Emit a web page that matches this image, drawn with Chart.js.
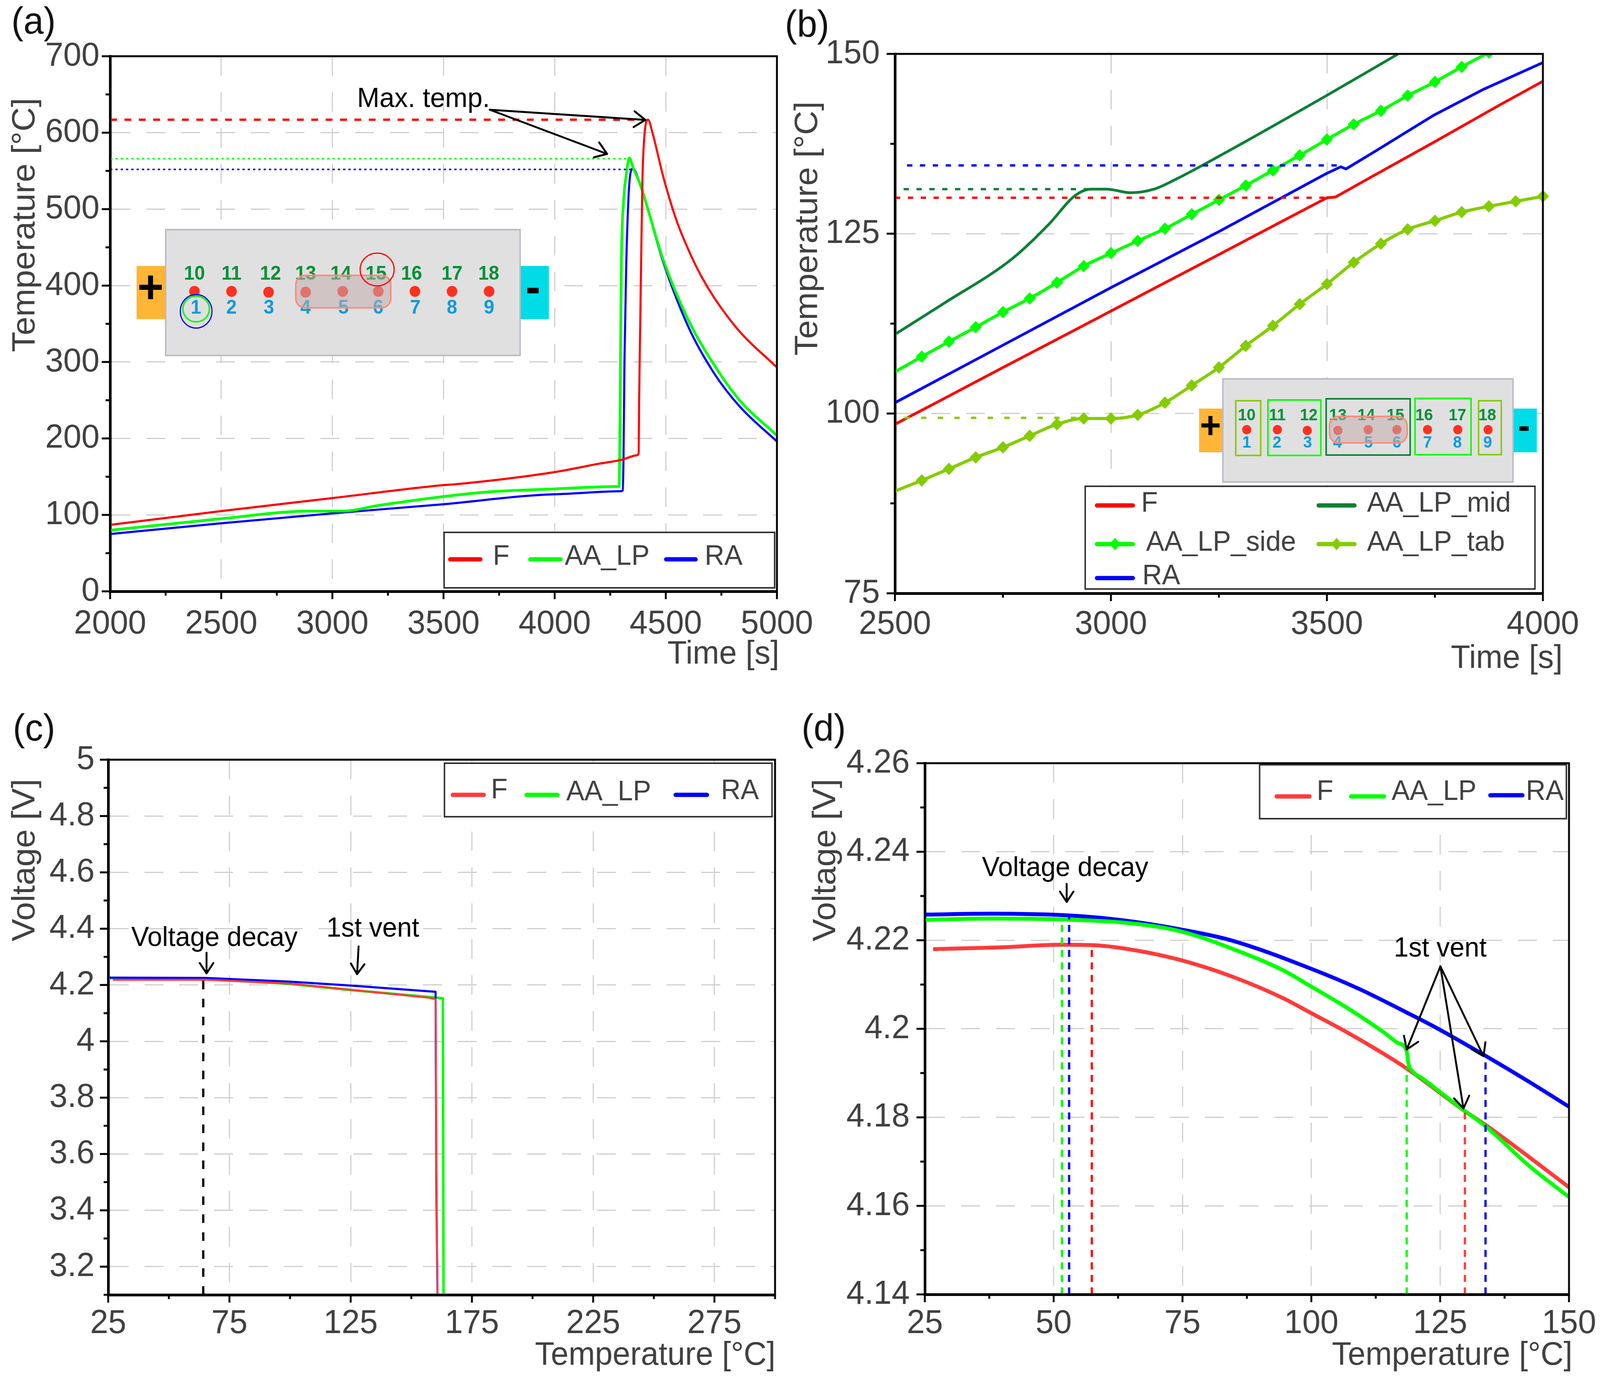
<!DOCTYPE html>
<html><head><meta charset="utf-8">
<script src="https://cdn.jsdelivr.net/npm/chart.js@4"></script>
<style>
html,body{margin:0;padding:0;background:#fff;overflow:hidden}
canvas{position:absolute;left:0;top:0}
</style></head><body>
<canvas id="a" width="4230" height="3528"></canvas>
<canvas id="b" width="4230" height="3528"></canvas>
<canvas id="c" width="4230" height="3528"></canvas>
<canvas id="d" width="4230" height="3528"></canvas>
<script>
// ---------- panel (a) ----------
const aF_t=[2000,2500,3000,3500,3550,4000,4200,4300,4370,4378,4380,4385,4390,4395,4405,4420,4440,4488,4546,4603,4660,4718,4832,5000];
const aF_T=[87,105,122,139,140,156,167,172,178,181,250,350,450,540,600,617,600,543,487,446,412,384,340,293];
const aAA_t=[2000,2500,2900,3050,3200,3500,3700,4000,4280,4290,4292,4296,4300,4310,4322,4336,4352,4385,4488,4603,4718,4832,5000];
const aAA_T=[80,95,105,105,112,124,130,134,137,137,170,300,428,510,545,567,555,532,434,354,296,250,204];
const aRA_t=[2000,2500,3000,3500,4000,4300,4306,4310,4314,4322,4339,4352,4385,4488,4603,4718,4832,5000];
const aRA_T=[75,89,102,114,127,131,132,180,300,428,543,553,532,431,345,285,242,196];
const aMaxT=[617,566,552];
const aMaxEnd=[4400,4325,4345];
const aXMajor=[2000,2500,3000,3500,4000,4500,5000], aXMinor=[2250,2750,3250,3750,4250,4750];
const aYMajor=[0,100,200,300,400,500,600,700], aYMinor=[50,150,250,350,450,550,650];
// ---------- panel (b) ----------
const bF_t=[2500,2600,2750,2900,3000,3100,3250,3400,3500,3520,3600,3750,3900,4000];
const bF_T=[98.5,101.65,106.4,111.1,114.25,117.4,122.1,126.85,130,130.1,132.8,137.8,142.9,146.2];
const bRA_t=[2500,2750,3000,3250,3500,3532,3544,3610,3748,3860,4000];
const bRA_T=[101.5,109.5,117.5,125.3,133.4,134.3,134,136.4,141.5,145,148.8];
const bMid_t=[2500,2613,2771,2856,2917,2954,2990,3045,3100,3148,3245,3499,3665];
const bMid_T=[111,115.3,121.5,126.3,130.3,131.2,131.2,130.7,131.2,132.5,135.6,144.2,150];
const bSide_t=[2500,2562,2625,2687,2750,2812,2875,2937,3000,3062,3125,3187,3250,3312,3375,3437,3500,3562,3625,3687,3750,3812,3875];
const bSide_T=[105.8,107.9,110,112,114.1,116,118.2,120.5,122.3,124,125.7,127.7,129.7,131.7,133.8,135.9,138.1,140.2,142.1,144.2,146.1,148.2,150.2];
const bTab_t=[2500,2562,2625,2687,2750,2812,2875,2937,3000,3062,3125,3187,3250,3312,3375,3437,3500,3562,3625,3687,3750,3812,3875,3937,4000];
const bTab_T=[89.2,90.7,92.3,93.9,95.3,96.9,98.5,99.3,99.3,99.8,101.5,103.9,106.4,109.4,112.2,115.2,118,121,123.6,125.6,126.8,128,128.8,129.5,130.2];
const bVentT=[130,134.5,131.2,99.4];
const bVentStart=[2500,2528,2520,2522];
const bVentEnd=[3500,3532,2954,2937];
const bXMajor=[2500,3000,3500,4000], bXMinor=[2750,3250,3750];
const bYMajor=[75,100,125,150], bYMinor=[87.5,112.5,137.5];
// ---------- panel (c) ----------
const cF_T=[27,65,100,125,157,160,160.3,160.8];
const cF_V=[4.218,4.219,4.205,4.183,4.155,4.15,3.6,3.1];
const cAA_T=[25,60,100,125,163,163.3];
const cAA_V=[4.224,4.224,4.204,4.182,4.153,3.1];
const cRA_T=[25,65,100,125,160,160.3,160.8];
const cRA_V=[4.226,4.225,4.212,4.198,4.176,3.5,3.1];
const cDecayT=64.2, cDecayV=4.22;
const cXMajor=[25,75,125,175,225,275], cXMinor=[50,100,150,200,250,300];
const cYMajor=[3.2,3.4,3.6,3.8,4,4.2,4.4,4.6,4.8,5], cYMinor=[3.1,3.3,3.5,3.7,3.9,4.1,4.3,4.5,4.7,4.9];
// ---------- panel (d) ----------
const dF_T=[26.6,39.6,51.5,57.5,64.5,74.4,84.4,94.4,99.9,107.4,118.3,129.8,133.8,142.3,150];
const dF_V=[4.218,4.2184,4.219,4.2189,4.218,4.2156,4.2119,4.207,4.2036,4.1989,4.1912,4.1814,4.1783,4.171,4.1642];
const dAA_T=[25,37.6,51.5,63.5,74.4,84.4,94.4,99.9,107.4,114.3,116.8,118.5,118.8,119.8,121.3,129.8,133.8,142.3,150];
const dAA_V=[4.2246,4.2249,4.2247,4.224,4.2221,4.2182,4.2133,4.2096,4.2044,4.199,4.1968,4.195,4.1924,4.1902,4.189,4.1814,4.178,4.169,4.162];
const dRA_T=[25,37.6,53,63.5,74.4,84.4,99.9,109.3,118.3,124.3,133.8,142.3,150];
const dRA_V=[4.2258,4.226,4.2256,4.2245,4.2225,4.22,4.2136,4.209,4.2038,4.2002,4.1939,4.188,4.1824];
const dDecayT=[51.6,53,57.4], dDecayV=[4.2247,4.2256,4.2189];
const dVentT=[118.5,129.8,133.8], dVentV=[4.1912,4.1814,4.1939];
const dXMajor=[25,50,75,100,125,150], dXMinor=[37.5,62.5,87.5,112.5,137.5];
const dYMajor=[4.14,4.16,4.18,4.2,4.22,4.24,4.26], dYMinor=[4.15,4.17,4.19,4.21,4.23,4.25];
// ---------- inset labels ----------
const topLabels=['10','11','12','13','14','15','16','17','18'];
const botLabels=['1','2','3','4','5','6','7','8','9'];

const FONT='"Liberation Sans", Arial, sans-serif';
const RED='#ff0000',GREEN='#00ff00',BLUE='#0000ff',DKGREEN='#0b8035',LIME='#84cc00';
const SOFTRED='#ff3b3b';
const TXT='#404040';
const MONO={cubicInterpolationMode:'monotone'};

const zip=(xs,ys)=>xs.map((x,i)=>({x,y:ys[i]}));
const line=(label,xs,ys,color,w,extra)=>Object.assign({label,data:zip(xs,ys),borderColor:color,backgroundColor:color,borderWidth:w,pointRadius:0,fill:false,tension:0},extra||{});
const dash=(label,xs,ys,color,w,d)=>line(label,xs,ys,color,w,{borderDash:d});

function T(ctx,s,x,y,font,color,align,base){ctx.font=font;ctx.fillStyle=color;ctx.textAlign=align||'left';ctx.textBaseline=base||'middle';ctx.fillText(s,x,y);}
function arrow(ctx,x1,y1,x2,y2,w,h){
  ctx.save();ctx.strokeStyle='#000';ctx.lineWidth=w||5;ctx.lineCap='round';ctx.lineJoin='round';
  ctx.beginPath();ctx.moveTo(x1,y1);ctx.lineTo(x2,y2);
  const a=Math.atan2(y2-y1,x2-x1),L=h||36;
  for(const s of [-0.6,0.6]){ctx.moveTo(x2,y2);ctx.lineTo(x2-L*Math.cos(a+s),y2-L*Math.sin(a+s));}
  ctx.stroke();ctx.restore();
}
function sample(ctx,x1,x2,y,color,marker){
  ctx.save();ctx.strokeStyle=color;ctx.lineWidth=11;ctx.lineCap='round';ctx.beginPath();ctx.moveTo(x1,y);ctx.lineTo(x2,y);ctx.stroke();
  if(marker){const c=(x1+x2)/2;ctx.fillStyle=color;ctx.beginPath();ctx.moveTo(c-14,y);ctx.lineTo(c,y-16);ctx.lineTo(c+14,y);ctx.lineTo(c,y+16);ctx.closePath();ctx.fill();}
  ctx.restore();
}
function legendBox(ctx,x1,y1,x2,y2,w){ctx.save();ctx.fillStyle='#fff';ctx.fillRect(x1,y1,x2-x1,y2-y1);ctx.strokeStyle='#333';ctx.lineWidth=w||4;ctx.strokeRect(x1,y1,x2-x1,y2-y1);ctx.restore();}
function ell(ctx,x,y,rx,ry,color,w,fill){ctx.save();ctx.beginPath();ctx.ellipse(x,y,rx,ry,0,0,Math.PI*2);if(fill){ctx.fillStyle=color;ctx.fill();}else{ctx.strokeStyle=color;ctx.lineWidth=w;ctx.stroke();}ctx.restore();}
function rr(ctx,x1,y1,x2,y2,r){ctx.beginPath();ctx.roundRect(x1,y1,x2-x1,y2-y1,r);}

function inset(ctx,o){
  ctx.save();
  ctx.fillStyle='#ffb535';ctx.fillRect(o.plus[0],o.box[1]+o.tabY[0],o.plus[1]-o.plus[0],o.tabY[1]-o.tabY[0]);
  ctx.fillStyle='#00dbe8';ctx.fillRect(o.minus[0],o.box[1]+o.tabY[0],o.minus[1]-o.minus[0],o.tabY[1]-o.tabY[0]);
  ctx.fillStyle='#e0e0e0';ctx.fillRect(o.box[0],o.box[1],o.box[2]-o.box[0],o.box[3]-o.box[1]);
  ctx.strokeStyle='#b8bcc8';ctx.lineWidth=4;ctx.strokeRect(o.box[0],o.box[1],o.box[2]-o.box[0],o.box[3]-o.box[1]);
  T(ctx,'+',o.signs[0],o.signs[1],'bold '+o.signFont+'px '+FONT,'#000','center','middle');
  T(ctx,'-',o.signs[2],o.signs[3],'bold '+o.signFont+'px '+FONT,'#000','center','middle');
  topLabels.forEach((s,i)=>T(ctx,s,o.topX[i],o.topY,'bold '+o.numFont+'px '+FONT,'#009035','center','middle'));
  botLabels.forEach((s,i)=>T(ctx,s,o.botX[i],o.botY,'bold '+o.numFont+'px '+FONT,'#0a9bdc','center','middle'));
  o.dotX.forEach((x,i)=>ell(ctx,x,o.dotY+((i==2||i==3)?o.dotDrop:0),o.dotR,o.dotR,'#ff3020',0,true));
  rr(ctx,o.hot[0],o.hot[1],o.hot[2],o.hot[3],24);
  ctx.fillStyle='rgba(195,173,173,0.55)';ctx.fill();ctx.strokeStyle='#ff8a7a';ctx.lineWidth=4;ctx.stroke();
  ctx.restore();
}

function makePanel(id,cfg){
  const MX=new Set(cfg.xMajor),MY=new Set(cfg.yMajor);
  const tickFont={family:FONT,size:86};
  const gridCol=(M)=>(c)=>(c.tick&&M.has(c.tick.value))?'#cfcfcf':'rgba(0,0,0,0)';
  const plugin={id:'deco'+id,
    afterDatasetsDraw(chart){
      const ctx=chart.ctx,a=chart.chartArea,sx=chart.scales.x,sy=chart.scales.y;
      ctx.save();
      if(cfg.deco)cfg.deco(ctx,sx,sy);
      ctx.strokeStyle='#000';ctx.lineWidth=5;ctx.strokeRect(a.left,a.top,a.right-a.left,a.bottom-a.top);
      ctx.lineWidth=5;ctx.lineCap='butt';ctx.beginPath();
      cfg.xMajor.forEach(v=>{const p=sx.getPixelForValue(v);ctx.moveTo(p,a.bottom);ctx.lineTo(p,a.bottom+20);});
      cfg.xMinor.forEach(v=>{const p=sx.getPixelForValue(v);ctx.moveTo(p,a.bottom);ctx.lineTo(p,a.bottom+11);});
      cfg.yMajor.forEach(v=>{const p=sy.getPixelForValue(v);ctx.moveTo(a.left,p);ctx.lineTo(a.left-22,p);});
      cfg.yMinor.forEach(v=>{const p=sy.getPixelForValue(v);ctx.moveTo(a.left,p);ctx.lineTo(a.left-12,p);});
      ctx.stroke();
      T(ctx,cfg.xTitle,cfg.xTitlePos[0],cfg.xTitlePos[1],'84px '+FONT,TXT,'right','middle');
      ctx.save();ctx.translate(cfg.yTitlePos[0],cfg.yTitlePos[1]);ctx.rotate(-Math.PI/2);
      T(ctx,cfg.yTitle,0,0,'86px '+FONT,TXT,'center','middle');ctx.restore();
      T(ctx,cfg.tag,cfg.tagPos[0],cfg.tagPos[1],'96px '+FONT,'#111','left','middle');
      ctx.restore();
    }};
  new Chart(document.getElementById(id),{type:'line',plugins:[plugin],
    data:{datasets:cfg.datasets},
    options:{responsive:false,animation:false,devicePixelRatio:1,
      layout:{padding:{left:0,top:cfg.plot[1],right:4230-cfg.plot[2],bottom:0}},
      plugins:{legend:{display:false},tooltip:{enabled:false},title:{display:false}},
      elements:{line:{borderJoinStyle:'round'}},
      scales:{
        x:{type:'linear',min:cfg.xRange[0],max:cfg.xRange[1],
          afterFit(s){s.height=3528-cfg.plot[3];},
          afterBuildTicks(s){s.ticks=cfg.xMajor.concat(cfg.xMinor).map(v=>({value:v}));},
          ticks:{autoSkip:false,maxRotation:0,minRotation:0,padding:cfg.xPad,color:TXT,font:tickFont,
            callback:(v)=>MX.has(v)?String(v):''},
          grid:{color:gridCol(MX),lineWidth:3,drawTicks:false},
          border:{display:true,color:'#000',width:7,dash:[50,42]}},
        y:{type:'linear',min:cfg.yRange[0],max:cfg.yRange[1],
          afterFit(s){s.width=cfg.plot[0];},
          afterBuildTicks(s){s.ticks=cfg.yMajor.concat(cfg.yMinor).map(v=>({value:v}));},
          ticks:{autoSkip:false,padding:cfg.yPad,color:TXT,font:tickFont,
            callback:(v)=>MY.has(v)?String(v):''},
          grid:{color:gridCol(MY),lineWidth:3,drawTicks:false},
          border:{display:true,color:'#000',width:7,dash:[50,42]}}
      }}});
}

// ---------- (a) ----------
makePanel('a',{plot:[291,144,2054,1514],xRange:[2000,5000],yRange:[0,700],
  xMajor:aXMajor,xMinor:aXMinor,yMajor:aYMajor,yMinor:aYMinor,xPad:33,yPad:28,
  xTitle:'Time [s]',xTitlePos:[2060,1676],yTitle:'Temperature [°C]',yTitlePos:[67,576],tag:'(a)',tagPos:[30,60],
  datasets:[
    dash('F max',[2000,aMaxEnd[0]],[aMaxT[0],aMaxT[0]],RED,6,[18,20]),
    dash('AA_LP max',[2000,aMaxEnd[1]],[aMaxT[1],aMaxT[1]],GREEN,4,[6,8]),
    dash('RA max',[2000,aMaxEnd[2]],[aMaxT[2],aMaxT[2]],BLUE,4,[6,8]),
    line('F',aF_t,aF_T,RED,5.5,MONO),
    line('AA_LP',aAA_t,aAA_T,GREEN,7,MONO),
    line('RA',aRA_t,aRA_T,BLUE,5.5,MONO)],
  deco(ctx){
    T(ctx,'Max. temp.',944,254,'71px '+FONT,'#000','left','middle');
    arrow(ctx,1295,281,1706,307);arrow(ctx,1295,281,1605,394);
    inset(ctx,{box:[438,588,1375,910],plus:[361,438],minus:[1375,1451],tabY:[93,229],
      signs:[398,742,1409,742],signFont:118,numFont:50,
      topX:[514,612,715,808,901,994,1088,1195,1292],topY:702,
      botX:[518,612,711,808,908,1000,1098,1195,1293],botY:789,
      dotX:[514,612,710,808,906,1000,1097,1195,1293],dotY:746,dotDrop:2,dotR:14,
      hot:[782,705,1033,788]});
    ell(ctx,518.5,797,42,43,BLUE,3);ell(ctx,518.5,791,35,33,GREEN,4);ell(ctx,997,690,45,42,RED,3);
    legendBox(ctx,1174,1363,2048,1505);
    const f='72px '+FONT;
    sample(ctx,1190,1270,1432,RED);T(ctx,'F',1303,1426,f,TXT);
    sample(ctx,1402,1482,1432,GREEN);T(ctx,'AA_LP',1493,1426,f,TXT);
    sample(ctx,1761,1839,1432,BLUE);T(ctx,'RA',1863,1426,f,TXT);
  }});

// ---------- (b) ----------
makePanel('b',{plot:[2366,138,4079,1519],xRange:[2500,4000],yRange:[75,150],
  xMajor:bXMajor,xMinor:bXMinor,yMajor:bYMajor,yMinor:bYMinor,xPad:29,yPad:40,
  xTitle:'Time [s]',xTitlePos:[4131,1687],yTitle:'Temperature [°C]',yTitlePos:[2136,585],tag:'(b)',tagPos:[2075,68],
  datasets:[
    dash('F vent',[bVentStart[0],bVentEnd[0]],[bVentT[0],bVentT[0]],RED,6,[14,20]),
    dash('RA vent',[bVentStart[1],bVentEnd[1]],[bVentT[1],bVentT[1]],BLUE,6,[14,20]),
    dash('mid vent',[bVentStart[2],bVentEnd[2]],[bVentT[2],bVentT[2]],DKGREEN,6,[14,20]),
    dash('tab vent',[bVentStart[3],bVentEnd[3]],[bVentT[3],bVentT[3]],LIME,6,[14,30]),
    line('F',bF_t,bF_T,RED,7),
    line('RA',bRA_t,bRA_T,BLUE,7),
    line('AA_LP_mid',bMid_t,bMid_T,DKGREEN,7,MONO),
    line('AA_LP_side',bSide_t,bSide_T,GREEN,8,Object.assign({pointRadius:(c)=>c.dataIndex==0?0:16,pointStyle:'rectRot',pointBorderWidth:0,pointBackgroundColor:GREEN},MONO)),
    line('AA_LP_tab',bTab_t,bTab_T,LIME,8,Object.assign({pointRadius:(c)=>c.dataIndex==0?0:16,pointStyle:'rectRot',pointBorderWidth:0,pointBackgroundColor:LIME,clip:false},MONO))],
  deco(ctx){
    legendBox(ctx,2869,1245,4058,1508);
    const f='72px '+FONT;
    sample(ctx,2900,2995,1294,RED);T(ctx,'F',3017,1290,f,TXT);
    sample(ctx,3486,3581,1294,DKGREEN);T(ctx,'AA_LP_mid',3614,1290,f,TXT);
    sample(ctx,2900,2995,1393,GREEN,true);T(ctx,'AA_LP_side',3030,1390,f,TXT);
    sample(ctx,3486,3581,1393,LIME,true);T(ctx,'AA_LP_tab',3614,1390,f,TXT);
    sample(ctx,2900,2995,1480,BLUE);T(ctx,'RA',3020,1476,f,TXT);
    inset(ctx,{box:[3233,970,4000,1234],plus:[3170,3233],minus:[4000,4063],tabY:[76,188],
      signs:[3200,1096,4029,1096],signFont:96,numFont:42,
      topX:[3296,3377,3460,3537,3612,3689,3765,3853,3932],topY:1064,
      botX:[3296,3376,3457,3536,3618,3693,3774,3853,3933],botY:1134,
      dotX:[3296,3377,3456,3537,3617,3693,3774,3854,3934],dotY:1100,dotDrop:2,dotR:12,
      hot:[3515,1066,3720,1134]});
    const box=(x1,y1,x2,y2,c)=>{ctx.strokeStyle=c;ctx.lineWidth=4;ctx.strokeRect(x1,y1,x2-x1,y2-y1);};
    box(3267,1026,3333,1166,LIME);box(3352,1024,3492,1166,GREEN);box(3506,1021,3728,1165,DKGREEN);
    box(3741,1020,3889,1164,GREEN);box(3909,1026,3969,1164,LIME);
  }});

// ---------- (c) ----------
makePanel('c',{plot:[286,1945,2049,3315],xRange:[25,300],yRange:[3.1,5],
  xMajor:cXMajor,xMinor:cXMinor,yMajor:cYMajor,yMinor:cYMinor,xPad:23,yPad:36,
  xTitle:'Temperature [°C]',xTitlePos:[2050,3471],yTitle:'Voltage [V]',yTitlePos:[67,2202],tag:'(c)',tagPos:[34,1870],
  datasets:[
    dash('decay',[cDecayT,cDecayT],[3.1,cDecayV],'#000',6,[22,24]),
    line('F',cF_T,cF_V,SOFTRED,5),
    line('RA',cRA_T,cRA_V,BLUE,5.5),
    line('AA_LP',cAA_T,cAA_V,GREEN,6.5)],
  deco(ctx){
    T(ctx,'Voltage decay',347,2403,'70px '+FONT,'#000');
    arrow(ctx,546,2439,546,2492,5,32);
    T(ctx,'1st vent',863,2379,'70px '+FONT,'#000');
    arrow(ctx,948,2423,944,2494,5,32);
    legendBox(ctx,1175,1954,2041,2091);
    const f='72px '+FONT;
    sample(ctx,1197,1279,2035,SOFTRED);T(ctx,'F',1298,2024,f,TXT);
    sample(ctx,1392,1474,2035,GREEN);T(ctx,'AA_LP',1497,2029,f,TXT);
    sample(ctx,1786,1869,2035,BLUE);T(ctx,'RA',1906,2026,f,TXT);
  }});

// ---------- (d) ----------
makePanel('d',{plot:[2445,1954,4148,3314],xRange:[25,150],yRange:[4.14,4.26],
  xMajor:dXMajor,xMinor:dXMinor,yMajor:dYMajor,yMinor:dYMinor,xPad:24,yPad:40,
  xTitle:'Temperature [°C]',xTitlePos:[4157,3471],yTitle:'Voltage [V]',yTitlePos:[2184,2202],tag:'(d)',tagPos:[2119,1870],
  datasets:[
    dash('AA_LP decay',[dDecayT[0],dDecayT[0]],[4.14,dDecayV[0]],GREEN,6,[18,14]),
    dash('RA decay',[dDecayT[1],dDecayT[1]],[4.14,dDecayV[1]],BLUE,6,[18,14]),
    dash('F decay',[dDecayT[2],dDecayT[2]],[4.14,dDecayV[2]],RED,6,[18,14]),
    dash('AA_LP vent',[dVentT[0],dVentT[0]],[4.14,dVentV[0]],GREEN,6,[18,14]),
    dash('F vent',[dVentT[1],dVentT[1]],[4.14,dVentV[1]],SOFTRED,6,[18,14]),
    dash('RA vent',[dVentT[2],dVentT[2]],[4.14,dVentV[2]],BLUE,6,[18,14]),
    line('AA_LP',dAA_T,dAA_V,GREEN,10,MONO),
    line('F',dF_T,dF_V,SOFTRED,10,MONO),
    line('RA',dRA_T,dRA_V,BLUE,10,MONO)],
  deco(ctx){
    T(ctx,'Voltage decay',2596,2224,'70px '+FONT,'#000');
    arrow(ctx,2820,2263,2820,2309,5,32);
    T(ctx,'1st vent',3685,2430,'70px '+FONT,'#000');
    arrow(ctx,3808,2474,3719,2687,5,36);arrow(ctx,3808,2474,3869,2838,5,36);arrow(ctx,3808,2474,3922,2704,5,36);
    legendBox(ctx,3330,1958,4141,2096);
    const f='72px '+FONT;
    sample(ctx,3375,3462,2039,SOFTRED);T(ctx,'F',3481,2028,f,TXT);
    sample(ctx,3572,3659,2039,GREEN);T(ctx,'AA_LP',3679,2028,f,TXT);
    sample(ctx,3940,4025,2036,BLUE);T(ctx,'RA',4034,2028,f,TXT);
  }});

// The browser window can be narrower than the figure: fit the figure to the real window width.
const viewW=Math.min(window.innerWidth||4230,4230);
document.querySelectorAll('canvas').forEach(el=>{el.style.width=viewW+'px';el.style.height='3528px';});
</script>
</body></html>
